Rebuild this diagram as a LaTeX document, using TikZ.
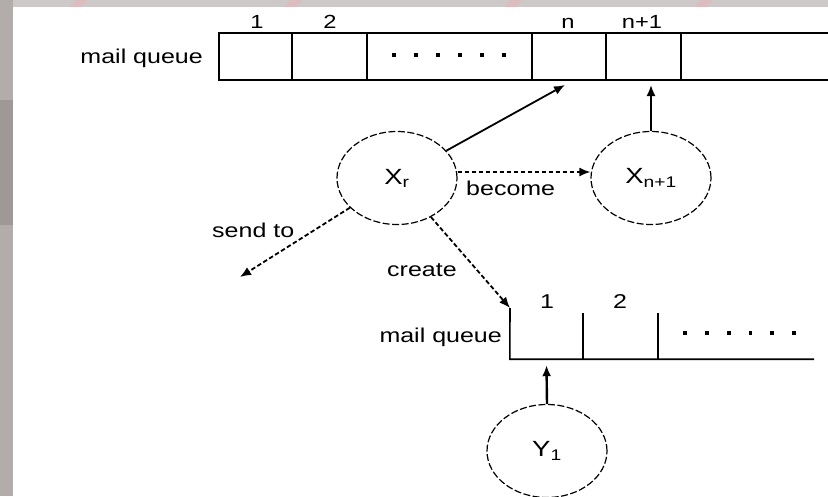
\documentclass[tikz,border=0pt]{standalone}
\usepackage{fontspec}
\setmainfont{Liberation Sans}
\newfontfamily\lblfont[FakeStretch=1.25]{Liberation Sans}
\usetikzlibrary{shapes.geometric,arrows.meta,calc}
\definecolor{frameL}{HTML}{B2ADAA}
\definecolor{frameD}{HTML}{9E9996}
\definecolor{frameT}{HTML}{CDC9C8}
\definecolor{streak}{HTML}{E3B9BC}
\begin{document}
\begin{tikzpicture}[x=1pt,y=-1pt,
  cellbox/.style={draw, line width=1.6pt, rectangle, inner sep=0pt, minimum height=47pt},
  opencell/.style={rectangle, inner sep=0pt, minimum height=47pt},
  proc/.style={draw, ellipse, dash pattern=on 7pt off 2.5pt, line width=1.2pt,
    minimum width=120pt, minimum height=93pt, inner sep=0pt,
    font=\lblfont\fontsize{22}{24}\selectfont},
  conn/.style={line width=1.8pt, -{Latex[length=11pt,width=9pt]}},
  dconn/.style={conn, dash pattern=on 4.5pt off 2.5pt},
  lab/.style={font=\lblfont\fontsize{20}{24}\selectfont, inner sep=0pt},
  idx/.style={font=\lblfont\fontsize{19}{22}\selectfont, inner sep=0pt},
  bidx/.style={font=\lblfont\fontsize{20}{22}\selectfont, inner sep=0pt},
  qline/.style={line width=1.6pt},
  dotmark/.style={fill=black, inner sep=0pt, minimum size=3.8pt, rectangle}
]
% background frame
\useasboundingbox (0,0) rectangle (828,496);
\fill[frameL] (0,0) rectangle (828,496);
\fill[frameD] (0,100) rectangle (13,225);
\fill[frameT] (13,0) rectangle (828,7);
\foreach \sx in {75,290,510,700} {
  \fill[streak, opacity=0.7] (\sx,0) -- (\sx+12,0) -- (\sx+6,7) -- (\sx-6,7) -- cycle;
}
\fill[white] (13,7) rectangle (828,496);

% top mail queue
\node[cellbox, minimum width=73pt]  (c1)  at (255.5,56.5) {};
\node[cellbox, minimum width=75pt]  (c2)  at (329.5,56.5) {};
\node[cellbox, minimum width=165pt] (c3)  at (449.5,56.5) {};
\node[cellbox, minimum width=74pt]  (cn)  at (569,56.5) {};
\node[cellbox, minimum width=75pt]  (cn1) at (643.5,56.5) {};
\node[opencell, minimum width=147pt] (cr) at (754.5,56.5) {};
\draw[qline] (cr.north west) -- (cr.north east);
\draw[qline] (cr.south west) -- (cr.south east);

\node[lab, anchor=base east] (mq1) at (203,63) {mail queue};
\node[idx, anchor=base] (l1)  at (257,28) {1};
\node[idx, anchor=base] (l2)  at (330,28) {2};
\node[idx, anchor=base] (ln)  at (568,28) {n};
\node[idx, anchor=base] (ln1) at (642,28) {n+1};
\foreach \k in {0,...,5} {
  \node[dotmark] (td\k) at (394+22*\k,55) {};
}

% processes
\node[proc] (xr) at (397,178) {X\textsubscript{r}};
\node[proc] (xn) at (651,178) {X\textsubscript{n+1}};
\node[proc] (y1) at (547,451) {Y\textsubscript{1}};

% bottom mail queue
\node[opencell, minimum width=73pt, minimum height=46pt] (b1) at (546.5,336) {};
\node[opencell, minimum width=75pt, minimum height=46pt] (b2) at (620.5,336) {};
\node[opencell, minimum width=156pt, minimum height=46pt] (b3) at (736,336) {};
\coordinate (btl) at (510,308);
\draw[qline] (btl) -- (b1.south west) -- (b3.south east);
\draw[qline] (b1.north east) -- (b1.south east);
\draw[qline] (b2.north east) -- (b2.south east);
\node[lab, anchor=base east] (mq2) at (502,342) {mail queue};
\node[bidx, anchor=base] (bl1) at (547,308) {1};
\node[bidx, anchor=base] (bl2) at (620,308) {2};
\foreach \k in {0,...,5} {
  \node[dotmark] (bd\k) at (685+21.8*\k,333) {};
}

% connectors
\coordinate (tn)  at (565,85);
\coordinate (tn1) at (651,85);
\coordinate (stip) at (240,277);
\draw[conn] (xr) -- (tn);
\draw[conn] (xn.north) -- (tn1);
\draw[dconn] ([yshift=6pt]xr.east) -- ([yshift=6pt]xn.west);
\draw[dconn] (xr) -- (stip);
\draw[dconn] (xr) -- (btl);
\draw[conn, line width=2.4pt] (y1.north) -- ([yshift=-6pt]b1.south);

% connector labels
\node[lab, anchor=base west] (lbecome) at (466,195) {become};
\node[lab, anchor=base west] (lsend)   at (212,237) {send to};
\node[lab, anchor=base west] (lcreate) at (387,276) {create};
\end{tikzpicture}
\end{document}
